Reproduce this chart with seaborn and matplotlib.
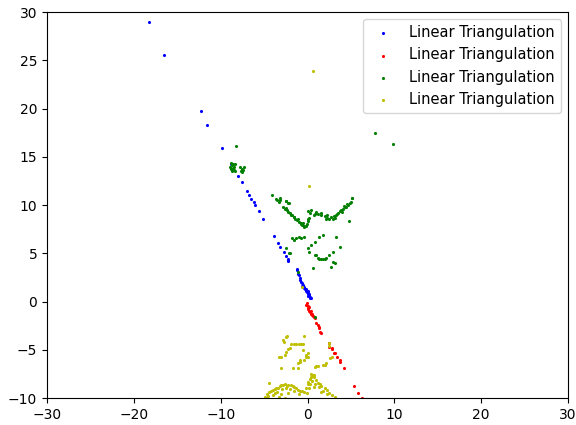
import matplotlib
matplotlib.use("Agg")
import matplotlib.pyplot as plt
import seaborn as sns
import pandas as pd

label = "Linear Triangulation"

blue_x = [-18.3, -16.5, -12.3, -11.55, -9.87, -8.8, -8.72, -7.95, -7.6, -7.0, -6.7, -6.5, -6.2, -6.07,
          -5.53, -5.07, -3.84, -3.38, -3.15, -2.76, -2.53, -2.3, -2.19, -2.25, -1.19, -1.23, -1.11,
          -1.0, -0.92, -0.85, -0.73, -0.65, -0.54, -0.45, -0.35, -0.3, -0.15, -0.05, 0.04, 0.1, 0.15,
          0.23, 0.3, 0.35, -0.2, 0.0, 0.2, -0.6, 0.25, 0.1]
blue_y = [29.0, 25.5, 19.7, 18.3, 15.9, 14.3, 14.25, 13.0, 12.4, 11.45, 11.0, 10.65, 10.3, 10.0,
          9.38, 8.58, 6.79, 6.03, 5.65, 5.1, 4.7, 4.37, 4.23, 4.3, 3.4, 3.26, 2.85,
          2.7, 2.4, 2.25, 2.05, 1.9, 1.71, 1.55, 1.37, 1.25, 1.09, 0.95, 0.85, 0.75, 0.68,
          0.57, 0.45, 0.33, 1.3, 1.1, 0.8, 1.6, 0.4, 0.55]

red_x = [-0.15, -0.1, 0.0, 0.05, 0.1, 0.2, 0.3, 0.4, 0.5, 0.6, 0.7, 0.81, 0.15, 0.35, 0.55,
         1.0, 1.19, 1.27, 1.38, 1.5, 1.46, 2.46, 2.53, 2.8, 2.84, 3.07, 3.11, 3.38, 3.69, 3.69,
         4.15, 5.33, 5.84, 6.3]
red_y = [-0.36, -0.2, -0.5, -0.65, -0.8, -0.95, -1.1, -1.25, -1.4, -1.5, -1.65, -1.74, -0.6, -1.0, -1.3,
         -2.26, -2.44, -2.68, -2.78, -3.3, -3.13, -4.33, -4.68, -4.85, -4.95, -5.3, -5.3, -5.72, -6.06, -6.24,
         -6.92, -8.76, -9.45, -9.95]

green_x = [-8.2, -8.8, -8.7, -8.6, -8.5, -8.8, -8.4, -8.3, -8.9, -8.6, -8.5, -8.7, -7.8, -7.6, -7.4,
           -7.3, -7.5, -7.7,
           -4.07, -3.6, -3.54, -3.23, -3.15, -3.11, -2.53, -2.45, -2.27, -2.15,
           -2.84, -2.6, -2.4, -2.2, -2.0, -1.8, -1.6, -1.4, -1.2, -1.0, -0.8, -0.6, -0.45, -0.35, -0.2,
           -1.5, -1.1, -0.7, -2.5, -1.9, -0.5, -0.1,
           0.0, 0.1, 0.23, 0.04, 0.42, 0.3,
           0.9, 1.19, 1.5, 1.96, 2.2, 2.5, 2.73, 3.0, 3.3, 3.5, 3.7, 3.88, 4.1, 4.3, 4.46, 4.7, 4.9,
           5.03, 5.15, 1.6, 2.3, 2.9, 3.4, 4.0, 4.6, 4.2, 3.2, 2.1, 1.0, 0.7, 4.76, 5.1,
           -1.8, -1.3, -0.73, -0.35, -1.5, -1.0, -2.45, -2.07, -2.15, 1.38, 1.77, 0.81, 0.42, 0.04,
           3.3, 0.81, 1.19, 1.58, 2.15, 2.53, 2.92, 3.69, 2.92, 1.0, 1.77, 0.61, 2.73, 3.11, 1.3, 2.0,
           0.2,
           7.76, 9.79, -1.11, 0.92]
green_y = [16.1, 14.4, 14.1, 13.8, 13.6, 13.7, 14.2, 13.5, 13.9, 14.3, 13.9, 13.5, 13.9, 13.7, 13.6,
           13.9, 13.45, 13.5,
           11.0, 10.6, 10.55, 10.35, 10.76, 10.5, 10.45, 10.4, 10.17, 10.24,
           9.82, 9.6, 9.45, 9.3, 9.15, 9.0, 8.8, 8.6, 8.45, 8.25, 8.1, 7.9, 7.8, 7.75, 7.85,
           8.8, 8.5, 8.0, 9.7, 9.0, 8.1, 8.05,
           8.3, 8.5, 8.62, 9.38, 9.48, 9.2,
           9.1, 9.04, 8.95, 8.9, 8.7, 8.6, 8.79, 8.85, 8.96, 9.2, 9.35, 9.48, 9.6, 9.75, 9.82, 10.0, 10.2,
           10.34, 10.76, 9.2, 9.0, 8.5, 9.1, 9.3, 10.1, 9.9, 8.7, 8.6, 9.3, 9.0, 8.34, 10.76,
           6.6, 6.55, 6.61, 6.65, 6.4, 6.7, 5.58, 5.0, 5.0, 6.72, 6.89, 6.2, 5.85, 5.58,
           6.72, 4.82, 4.54, 4.4, 4.47, 4.82, 5.16, 5.68, 4.06, 4.82, 4.37, 3.44, 3.6, 4.02, 4.4, 4.4,
           5.1,
           17.5, 16.3, 3.09, -1.57]

yellow_x = [0.61, 0.23, -0.61,
            -2.34, -0.35, -2.72, -2.84, -2.45, -1.88, -1.6, -1.3, -1.0, -0.75, -0.54, -0.54, -2.26,
            -2.45, -3.03, -3.23, 0.04, 0.04, -0.84, -1.11, -0.35, -0.92, -0.15, 1.0, 1.77, 2.15, 2.8,
            2.42, -3.03, -1.69, -1.11, 0.81, 1.19, 1.96, 2.6, 2.5, -2.07, -2.6, -0.2,
            -4.95, -4.7, -4.4, -4.2, -4.0, -3.8, -3.6, -3.42, -3.2, -3.03, -2.8, -2.6, -2.4, -2.2,
            -1.88, -1.7, -1.5, -1.3, -1.11, -0.9, -0.6, -0.35, -3.8, -4.5, -3.5, -2.9, -2.5, -2.0,
            -1.6, -1.0, -4.0, -3.0, -2.2, -4.49, -4.8, -3.3, -2.6,
            -0.15, 0.0, 0.1, 0.25, 0.4, 0.61, 0.61, 0.8, 1.0, 1.19, 1.4, 1.6, 1.96, 2.2, 2.53, 2.8,
            3.11, 0.3, 0.5, 0.9, 1.3, 1.8, 2.3, 0.2, 0.7, -0.1, 1.5, 0.45, 0.7]
yellow_y = [23.9, 11.97, 1.53,
            -3.58, -3.58, -4.17, -3.99, -3.65, -4.4, -4.4, -4.4, -4.4, -4.4, -4.4, -5.03, -4.96,
            -5.2, -5.72, -5.72, -5.3, -5.72, -6.24, -6.41, -6.06, -6.06, -5.79, -6.68, -6.58, -6.41, -5.72,
            -4.33, -6.92, -6.92, -6.92, -6.75, -6.68, -6.58, -5.9, -4.6, -4.85, -5.5, -5.5,
            -9.87, -9.6, -9.4, -9.3, -9.2, -9.1, -8.95, -9.0, -8.8, -8.65, -8.7, -8.6, -8.75, -8.65,
            -8.65, -8.75, -8.83, -9.0, -9.17, -9.3, -9.3, -9.35, -9.52, -9.8, -9.4, -9.1, -9.0, -9.1,
            -9.3, -9.6, -9.7, -9.6, -9.5, -8.41, -9.95, -9.9, -9.95,
            -9.0, -8.6, -8.3, -8.0, -7.85, -7.72, -7.6, -7.8, -8.1, -8.48, -8.6, -8.8, -9.0, -9.2, -9.52, -9.7,
            -9.87, -8.5, -8.2, -8.6, -8.9, -9.3, -9.6, -9.0, -8.9, -9.5, -9.4, -7.5, -7.65]

x_ticks = [-30, -20, -10, 0, 10, 20, 30]
y_ticks = [-10, -5, 0, 5, 10, 15, 20, 25, 30]

fig = plt.figure(figsize=(5.76, 4.25), dpi=100)
ax = fig.add_axes([47 / 576, 27 / 425, 521 / 576, 386 / 425])

for xs, ys, col in [(blue_x, blue_y, "b"), (red_x, red_y, "r"),
                    (green_x, green_y, "g"), (yellow_x, yellow_y, "y")]:
    df = pd.DataFrame({"x": xs, "y": ys})
    sns.scatterplot(data=df, x="x", y="y", color=col, s=2.0, linewidth=0.8,
                    edgecolor=col, label=label, ax=ax, legend=False)
    ax.collections[-1].set_label(label)

ax.set_xlim(-30, 30)
ax.set_ylim(-10, 30)
ax.set_xticks(x_ticks)
ax.set_yticks(y_ticks)
ax.set_xlabel("")
ax.set_ylabel("")
ax.legend(loc="upper right", markerscale=1.0, fontsize=10.5)

fig.savefig("out.png", dpi=100)
